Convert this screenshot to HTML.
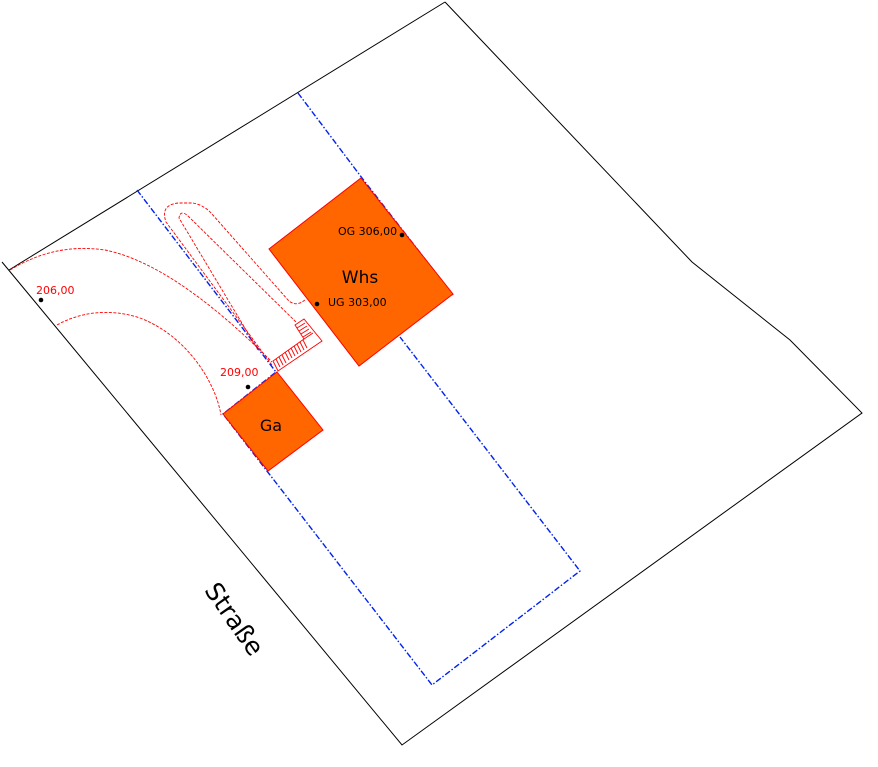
<!DOCTYPE html>
<html><head><meta charset="utf-8"><style>html,body{margin:0;padding:0;background:#fff}svg{display:block}</style></head>
<body>
<svg width="878" height="767" viewBox="0 0 878 767" xmlns="http://www.w3.org/2000/svg" font-family="Liberation Sans, DejaVu Sans, sans-serif">
<polyline points="445,2 9,270" fill="none" stroke="#000" stroke-width="1"/>
<polyline points="2,262 402,745 862,413 790,340 692,262 445,2" fill="none" stroke="#000" stroke-width="1"/>
<polyline points="137,190 276,372 223,414 432,685 580,571 400,337" fill="none" stroke="#0022ee" stroke-width="1.4" stroke-dasharray="6,2,1.5,2"/>
<polyline points="298,93 362,178 453,295" fill="none" stroke="#0022ee" stroke-width="1.4" stroke-dasharray="6,2,1.5,2"/>
<g fill="none" stroke="#f00" stroke-width="0.9" stroke-dasharray="3,1.5">
<path d="M10,270 C40,252 70,245 105,250 C165,262 230,320 272,362"/>
<path d="M57,325 C80,312 110,308 140,318 C185,335 215,380 221,415"/>
<path d="M272,365 L166,222 Q160,205 178,203 L193,203 Q204,205 212,214 L288,300 Q296,308 306,299"/>
<path d="M258,350 L179,218 Q180,210 187,215 L297,323"/>
</g>
<g fill="none" stroke="#f00" stroke-width="0.9">
<polygon points="273,361 304,339 295,325 304,319 322,341 278,371"/>
<line x1="304" y1="339" x2="313" y2="333"/>
<path d="M276,359 l4,8 M279,357 l4,8 M282,355 l4,8 M285,352 l4,8 M288,350 l4,8 M291,348 l4,8 M294,346 l4,8 M297,344 l4,8 M300,342 l4,8 M303,340 l4,8"/>
<path d="M297,328 l8,-5 M299,331 l8,-5 M301,334 l8,-5 M303,337 l8,-5"/>
</g>
<polygon points="361,178 453,294 359,366 269,249" fill="#ff6600" stroke="#f00" stroke-width="1"/>
<polygon points="277,372 323,430 268,471 223,414" fill="#ff6600" stroke="#f00" stroke-width="1"/>
<text x="360" y="283" font-size="17" text-anchor="middle" fill="#000" font-family="DejaVu Sans, sans-serif">Whs</text>
<text x="271" y="431" font-size="16" text-anchor="middle" fill="#000" font-family="DejaVu Sans, sans-serif">Ga</text>
<circle cx="41" cy="300" r="2.3" fill="#000"/>
<circle cx="248" cy="387" r="2.3" fill="#000"/>
<circle cx="402" cy="235" r="2.3" fill="#000"/>
<circle cx="317" cy="304" r="2.3" fill="#000"/>
<text x="36" y="294" font-size="11" fill="#f00" font-family="DejaVu Sans, sans-serif">206,00</text>
<text x="220" y="376" font-size="11" fill="#f00" font-family="DejaVu Sans, sans-serif">209,00</text>
<text x="338" y="235" font-size="11" fill="#000" font-family="DejaVu Sans, sans-serif">OG 306,00</text>
<text x="328" y="306" font-size="11" fill="#000" font-family="DejaVu Sans, sans-serif">UG 303,00</text>
<text x="233" y="620" font-size="25" text-anchor="middle" dominant-baseline="middle" fill="#000" font-family="DejaVu Sans, sans-serif" transform="rotate(55 233 620)">Straße</text>
</svg>
</body></html>
